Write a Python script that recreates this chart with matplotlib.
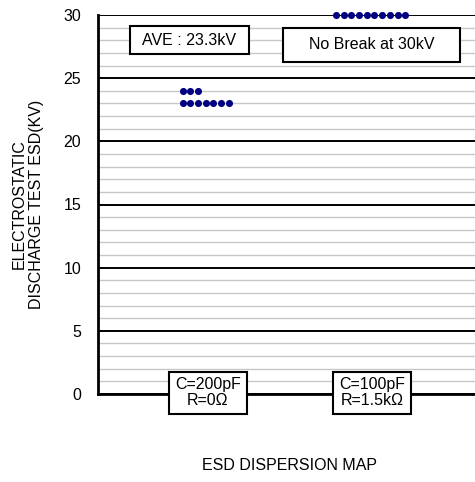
import matplotlib.pyplot as plt
from matplotlib.patches import Rectangle

plt.rcParams['font.family'] = ['Liberation Sans', 'DejaVu Sans']

# ESD test results (kV) per test condition
cond_labels = ['C=200pF\nR=0Ω', 'C=100pF\nR=1.5kΩ']
esd_200pF = [23, 23, 23, 23, 23, 23, 23, 24, 24, 24]
esd_100pF = [30, 30, 30, 30, 30, 30, 30, 30, 30, 30]
ave_text = 'AVE : 23.3kV'
nobreak_text = 'No Break at 30kV'
yticks = [0, 5, 10, 15, 20, 25, 30]

# horizontal layout (x in pixel-like units of the plot area)
cond_x = [109.7, 274.0]
dot_start = [84.7, 238.0]
dot_step = 7.7
XMAX = 378
FS = 11.5

fig = plt.figure(figsize=(4.75, 4.82), dpi=100)
ax = fig.add_axes([98 / 475, 1 - 394 / 482, (XMAX) / 475, 379 / 482])
ax.set_xlim(0, XMAX)
ax.set_ylim(0, 30)

ax.set_yticks(yticks)
ax.set_yticks(range(0, 31), minor=True)
ax.grid(which='minor', axis='y', color='#c8c8c8', lw=1.0)
ax.grid(which='major', axis='y', color='black', lw=1.4)
ax.set_axisbelow(True)
ax.tick_params(axis='y', which='both', length=0, pad=12, labelsize=FS)
ax.set_xticks([])
for s in ['top', 'right']:
    ax.spines[s].set_visible(False)
ax.spines['left'].set_linewidth(2)
ax.spines['bottom'].set_linewidth(2)

# dots, stacked left-to-right per value
for i, vals in enumerate([esd_200pF, esd_100pF]):
    counts = {}
    xs, ys = [], []
    for v in vals:
        n = counts.get(v, 0)
        xs.append(dot_start[i] + n * dot_step)
        ys.append(v)
        counts[v] = n + 1
    ax.scatter(xs, ys, s=26, color='#000080', zorder=5, clip_on=False, linewidths=0)

# annotation boxes
def box(x0, x1, y0, y1, text, fs=FS):
    ax.add_patch(Rectangle((x0, y0), x1 - x0, y1 - y0, facecolor='white',
                           edgecolor='black', lw=1.5, zorder=6, clip_on=False))
    ax.text((x0 + x1) / 2, (y0 + y1) / 2, text, ha='center', va='center',
            fontsize=fs, zorder=7, linespacing=1.05)

box(32, 151, 26.9, 29.1, ave_text)
box(184.7, 362, 26.3, 29.0, nobreak_text)
for cx, lab in zip(cond_x, cond_labels):
    box(cx - 39, cx + 39, -1.55, 1.75, lab)

ax.set_ylabel('ELECTROSTATIC\nDISCHARGE TEST ESD(KV)', fontsize=FS,
              linespacing=1.2)
ax.yaxis.set_label_coords(-(98 - 44) / XMAX, 0.5)
fig.text(289 / 475, 1 - 466 / 482, 'ESD DISPERSION MAP', ha='center', va='center',
         fontsize=FS)

fig.savefig('out.png', dpi=100)
